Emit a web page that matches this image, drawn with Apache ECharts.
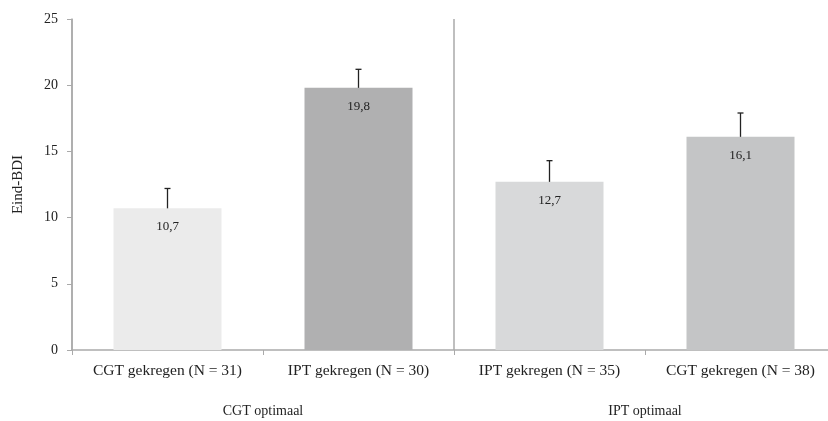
<!DOCTYPE html>
<html>
<head>
<meta charset="utf-8">
<script src="https://cdn.jsdelivr.net/npm/echarts@6/dist/echarts.min.js"></script>
<style>
  html, body { margin: 0; padding: 0; background: #fff; overflow: hidden; }
  #chart { width: 836px; height: 421px; }
</style>
</head>
<body>
<div id="chart"></div>
<script>
var categories = ["CGT gekregen (N = 31)", "IPT gekregen (N = 30)", "IPT gekregen (N = 35)", "CGT gekregen (N = 38)"];
var groups = ["CGT optimaal", "IPT optimaal"];
var means = [10.7, 19.8, 12.7, 16.1];
var errorTops = [12.2, 21.2, 14.3, 17.9];
var barColors = ["#ebebeb", "#b0b0b1", "#d8d9da", "#c4c5c6"];

var font = "Liberation Serif";
var chart = echarts.init(document.getElementById("chart"));

var option = {
  animation: false,
  grid: { left: 72, right: 0, top: 19, bottom: 71 },
  xAxis: [
    {
      type: "category",
      data: categories,
      axisLine: { lineStyle: { color: "#aaaaaa", width: 1.5 } },
      axisTick: { show: true, length: 5, lineStyle: { color: "#aaaaaa" } },
      axisLabel: { interval: 0, color: "#222", fontFamily: font, fontSize: 15.5, margin: 13 }
    },
    {
      type: "category",
      data: groups,
      position: "bottom",
      axisLine: { show: false },
      axisTick: { show: false },
      axisLabel: { interval: 0, color: "#222", fontFamily: font, fontSize: 14, margin: 54 },
      splitLine: { show: true, lineStyle: { color: "#aaaaaa", width: 1.5 } }
    }
  ],
  yAxis: {
    type: "value",
    min: 0,
    max: 25,
    interval: 5,
    name: "Eind-BDI",
    nameLocation: "middle",
    nameGap: 46,
    nameTextStyle: { color: "#222", fontFamily: font, fontSize: 15 },
    axisLine: { show: true, lineStyle: { color: "#aaaaaa", width: 1.5 } },
    axisTick: { show: true, length: 5, lineStyle: { color: "#aaaaaa" } },
    axisLabel: { color: "#222", fontFamily: font, fontSize: 14, margin: 14 },
    splitLine: { show: false }
  },
  series: [
    {
      type: "bar",
      barWidth: 108,
      data: means.map(function (v, i) {
        return { value: v, itemStyle: { color: barColors[i] } };
      }),
      label: {
        show: true,
        position: "insideTop",
        distance: 12,
        color: "#222",
        fontFamily: font,
        fontSize: 13,
        formatter: function (p) {
          return String(p.value).replace(".", ",");
        }
      }
    },
    {
      type: "custom",
      z: 5,
      data: means.map(function (v, i) { return [i, v, errorTops[i]]; }),
      renderItem: function (params, api) {
        var low = api.coord([api.value(0), api.value(1)]);
        var high = api.coord([api.value(0), api.value(2)]);
        var cap = 3;
        var style = { stroke: "#222", lineWidth: 1.3 };
        return {
          type: "group",
          children: [
            { type: "line", shape: { x1: high[0], y1: high[1], x2: low[0], y2: low[1] }, style: style },
            { type: "line", shape: { x1: high[0] - cap, y1: high[1], x2: high[0] + cap, y2: high[1] }, style: style }
          ]
        };
      }
    }
  ]
};

chart.setOption(option);
</script>
</body>
</html>
